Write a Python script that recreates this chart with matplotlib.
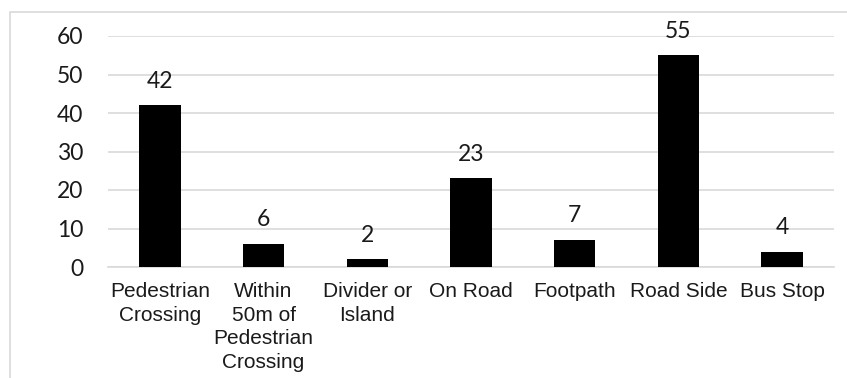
import matplotlib.pyplot as plt
from matplotlib.patches import Rectangle

# pedestrian location counts
categories = ['Pedestrian\nCrossing', 'Within\n50m of\nPedestrian\nCrossing', 'Divider or\nIsland',
              'On Road', 'Footpath', 'Road Side', 'Bus Stop']
counts = [42, 6, 2, 23, 7, 55, 4]
yticks = [0, 10, 20, 30, 40, 50, 60]

fig = plt.figure(figsize=(8.47, 3.78), dpi=100)
ax = fig.add_axes([108 / 847, 1 - 267 / 378, (834 - 108) / 847, (267 - 36) / 378])

# outer chart frame, clipped on the right and bottom
fig.patches.append(Rectangle((10 / 847, -0.1), 1.0, 1.1 - 12 / 378, transform=fig.transFigure,
                             fill=False, edgecolor='#d9d9d9', linewidth=1.2))

x = range(len(categories))
bars = ax.bar(x, counts, width=0.4, color='black', zorder=3)
for b, v in zip(bars, counts):
    ax.text(b.get_x() + b.get_width() / 2, v + 4.6, str(v), ha='center', va='baseline',
            fontsize=16.5, family='Lato', color='#1a1a1a')

ax.set_xlim(-0.5, len(categories) - 0.5)
ax.set_ylim(0, 60)
ax.set_yticks(yticks)
ax.set_yticklabels([str(t) for t in yticks], fontsize=16.5, family='Lato', color='#1a1a1a')
ax.set_xticks(list(x))
ax.set_xticklabels(categories, fontsize=15, family='Liberation Sans', color='#1a1a1a',
                   linespacing=1.3)
ax.tick_params(axis='both', length=0)
ax.tick_params(axis='y', pad=18)
ax.tick_params(axis='x', pad=11)
ax.yaxis.grid(True, color='#d9d9d9', linewidth=1.2, zorder=0)
for s in ['top', 'right', 'left']:
    ax.spines[s].set_visible(False)
ax.spines['bottom'].set_color('#d9d9d9')
ax.spines['bottom'].set_linewidth(1.2)

fig.savefig('out.png', dpi=100)
